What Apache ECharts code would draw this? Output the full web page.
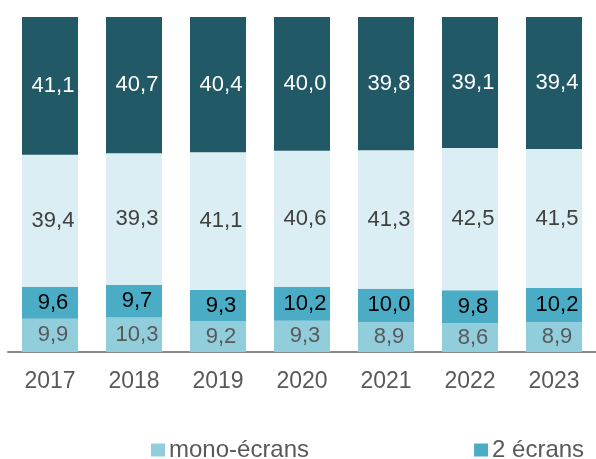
<!DOCTYPE html>
<html><head><meta charset="utf-8">
<script src="https://cdn.jsdelivr.net/npm/echarts@6/dist/echarts.min.js"></script>
<style>html,body{margin:0;padding:0;background:#fff}#c{width:596px;height:459px}</style>
</head><body><div id="c"></div>
<script>
const years = ['2017','2018','2019','2020','2021','2022','2023'];
const mono = [9.9, 10.3, 9.2, 9.3, 8.9, 8.6, 8.9];
const deux = [9.6, 9.7, 9.3, 10.2, 10.0, 9.8, 10.2];
const trois = [39.4, 39.3, 41.1, 40.6, 41.3, 42.5, 41.5];
const quatre = [41.1, 40.7, 40.4, 40.0, 39.8, 39.1, 39.4];
const names = ['mono-écrans', '2 écrans', '3 écrans', '4 écrans et plus'];
const colors = ['#92CDDC', '#4BACC6', '#DAEEF3', '#215967'];
const labelColors = ['#595959', '#000000', '#404040', '#FFFFFF'];
const fmt = v => v.toFixed(1).replace('.', ',');
const chart = echarts.init(document.getElementById('c'));
const seriesData = [mono, deux, trois, quatre];
chart.setOption({
  animation: false,
  textStyle: {fontFamily: 'Liberation Sans, Arial, sans-serif'},
  grid: {left: 8, right: 0, top: 17, bottom: 107},
  legend: {
    data: ['mono-écrans', '2 écrans'],
    left: 151, top: 438, itemWidth: 14, itemHeight: 13, itemGap: 165,
    icon: 'rect', padding: 0,
    textStyle: {fontSize: 24, color: '#595959', fontFamily: 'Liberation Sans, Arial, sans-serif', padding: [0,0,0,-1]}
  },
  xAxis: {
    type: 'category', data: years,
    axisLine: {lineStyle: {color: '#898989', width: 2}},
    axisTick: {inside: true, length: 5, lineStyle: {color: '#898989', width: 2}},
    axisLabel: {fontSize: 23, color: '#595959', margin: 18}
  },
  yAxis: {type: 'value', min: 0, max: 100, show: false, splitLine: {show: false}},
  series: seriesData.map((d, i) => ({
    name: names[i], type: 'bar', stack: 'a', barWidth: 56,
    data: d,
    itemStyle: {color: colors[i]},
    label: {show: true, position: 'inside', fontSize: 22, color: labelColors[i], offset: [3, 0],
      formatter: p => fmt(p.value)}
  }))
});
</script></body></html>
